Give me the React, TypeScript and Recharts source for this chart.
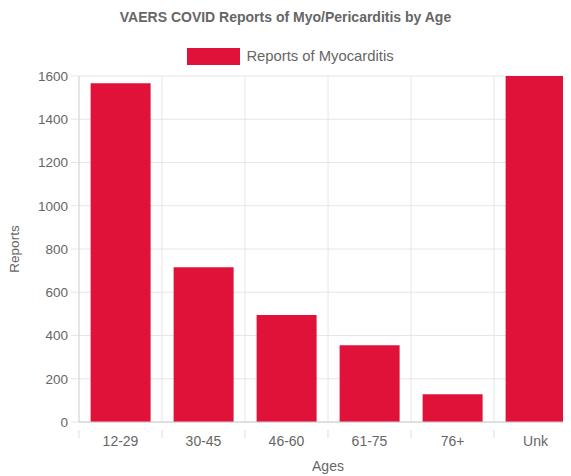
import { BarChart, Bar, XAxis, YAxis, CartesianGrid, Legend } from "recharts";

// Age groups and report counts
const ageGroups = ["12-29", "30-45", "46-60", "61-75", "76+", "Unk"];
const myocarditisReports = [1567, 716, 495, 355, 128, 1600];
const yTicks = [0, 200, 400, 600, 800, 1000, 1200, 1400, 1600];

const data = ageGroups.map((age, i) => ({ age, reports: myocarditisReports[i] }));

const BAR_COLOR = "#E0123A";
const TEXT_COLOR = "#666";
const FONT = "'Liberation Sans', Arial, Helvetica, sans-serif";

// x tick: label plus a short tick mark at the left category boundary (Chart.js style)
const XTick = (props: any) => {
  const { x, y, payload, width } = props;
  const band = width / ageGroups.length;
  const left = x - band / 2;
  return (
    <g>
      <line x1={left} y1={y} x2={left} y2={y + 8} stroke="#ddd" />
      <text x={x} y={y + 6} dy="0.71em" textAnchor="middle" fill={TEXT_COLOR} fontSize={14} fontFamily={FONT}>
        {payload.value}
      </text>
    </g>
  );
};

const LegendContent = () => (
  <div style={{ height: 20, display: "flex", justifyContent: "center", alignItems: "center", fontFamily: FONT }}>
    <span style={{ width: 53, height: 17, background: BAR_COLOR, display: "inline-block", marginRight: 6 }} />
    <span style={{ fontSize: 14.8, color: TEXT_COLOR }}>Reports of Myocarditis</span>
  </div>
);

export default function App() {
  return (
    <div style={{ position: "relative", width: 582, height: 476, left: -8, top: -8 }}>
      <div
        style={{
          position: "absolute",
          top: 9,
          left: 0,
          width: 571,
          textAlign: "center",
          fontFamily: FONT,
          fontWeight: "bold",
          fontSize: 14,
          color: TEXT_COLOR,
        }}
      >
        VAERS COVID Reports of Myo/Pericarditis by Age
      </div>
      <BarChart
        width={582}
        height={476}
        data={data}
        margin={{ top: 56, right: 5, left: 0, bottom: 0 }}
        barCategoryGap="14%"
      >
        <Legend
          verticalAlign="top"
          align="center"
          content={<LegendContent />}
          wrapperStyle={{ left: 5, width: 571, top: 46 }}
        />
        <CartesianGrid
          stroke="#e6e6e6"
          verticalCoordinatesGenerator={({ offset }: any) =>
            ageGroups.map((_, i) => offset.left + ((i + 1) * offset.width) / ageGroups.length)
          }
        />
        <XAxis
          dataKey="age"
          height={54}
          tickLine={false}
          axisLine={{ stroke: "#ccc" }}
          tick={<XTick />}
          interval={0}
          label={{ value: "Ages", position: "insideBottom", offset: 5, fill: TEXT_COLOR, fontSize: 14, fontFamily: FONT }}
        />
        <YAxis
          width={79}
          domain={[0, 1600]}
          ticks={yTicks}
          allowDataOverflow
          tickSize={8}
          tickMargin={3}
          tickLine={{ stroke: "#e6e6e6" }}
          axisLine={{ stroke: "#ccc" }}
          tick={{ fill: TEXT_COLOR, fontSize: 13.5, fontFamily: FONT }}
          label={{ value: "Reports", angle: -90, position: "insideLeft", offset: 14, fill: TEXT_COLOR, fontSize: 13.5, fontFamily: FONT, style: { textAnchor: "middle" } }}
        />
        <Bar dataKey="reports" name="Reports of Myocarditis" fill={BAR_COLOR} isAnimationActive={false} />
      </BarChart>
    </div>
  );
}
